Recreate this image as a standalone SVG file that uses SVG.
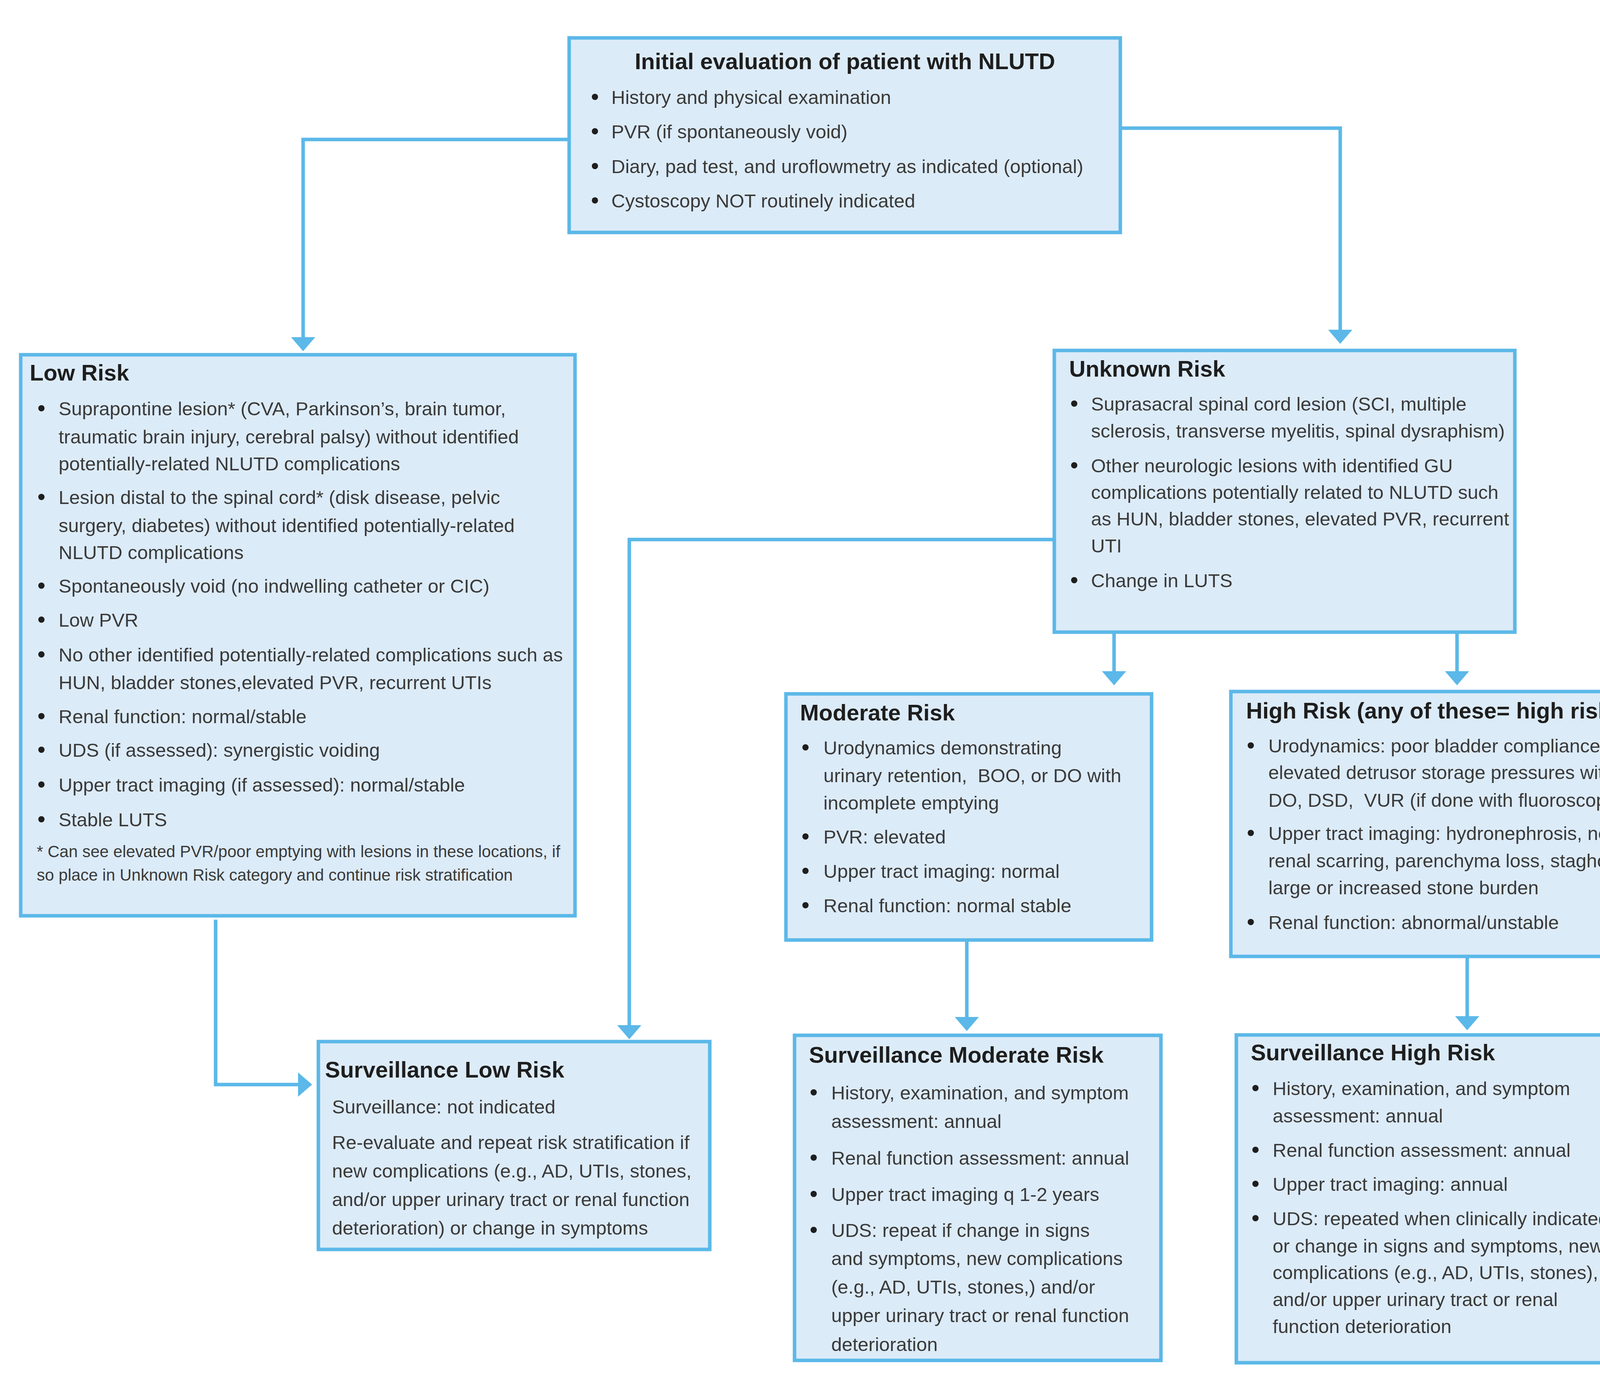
<svg xmlns="http://www.w3.org/2000/svg" width="4281" height="3545" viewBox="0 0 4281 3545">
<style>
.box{fill:#DCEBF8;stroke:#5BB8E8;stroke-width:9}
.ttl{font-family:"Liberation Sans",Arial,sans-serif;font-weight:bold;font-size:58px;fill:#1E1E1E}
.txt{font-family:"Liberation Sans",Arial,sans-serif;font-size:49px;fill:#3A3A3A;white-space:pre}
.fn{font-family:"Liberation Sans",Arial,sans-serif;font-size:42px;fill:#3A3A3A}
.bul{fill:#1E1E1E}
.con{fill:none;stroke:#5BB8E8;stroke-width:9}
</style>
<defs>
<marker id="ah" viewBox="0 0 36 62" refX="30" refY="31" markerWidth="36" markerHeight="62" markerUnits="userSpaceOnUse" orient="auto">
<path d="M0,0 L36,31 L0,62 z" fill="#5BB8E8"/>
</marker>
<circle id="b" r="8" class="bul"/>
</defs>
<rect width="4281" height="3545" fill="#FFFFFF"/>

<g id="connectors">
<path class="con" d="M1453,357 H776 V893" marker-end="url(#ah)"/>
<path class="con" d="M2872,328 H3431 V874" marker-end="url(#ah)"/>
<path class="con" d="M2695,1381 H1611 V2654" marker-end="url(#ah)"/>
<path class="con" d="M2852,1622 V1748" marker-end="url(#ah)"/>
<path class="con" d="M3730,1622 V1748" marker-end="url(#ah)"/>
<path class="con" d="M2475,2410 V2633" marker-end="url(#ah)"/>
<path class="con" d="M3756,2452 V2631" marker-end="url(#ah)"/>
<path class="con" d="M552,2354 V2776 H793" marker-end="url(#ah)"/>
</g>

<g id="initial">
<rect class="box" x="1457" y="97" width="1411" height="498"/>
<text class="ttl" x="2163" y="177" text-anchor="middle">Initial evaluation of patient with NLUTD</text>
<use href="#b" x="1523" y="248"/><text class="txt" x="1565" y="266">History and physical examination</text>
<use href="#b" x="1523" y="336"/><text class="txt" x="1565" y="354">PVR (if spontaneously void)</text>
<use href="#b" x="1523" y="425"/><text class="txt" x="1565" y="443">Diary, pad test, and uroflowmetry as indicated (optional)</text>
<use href="#b" x="1523" y="513"/><text class="txt" x="1565" y="531">Cystoscopy NOT routinely indicated</text>
</g>

<g id="low-risk">
<rect class="box" x="53" y="908" width="1419" height="1436"/>
<text class="ttl" x="76" y="974">Low Risk</text>
<use href="#b" x="106" y="1045"/><text class="txt" x="150" y="1063">Suprapontine lesion* (CVA, Parkinson’s, brain tumor,</text>
<text class="txt" x="150" y="1135">traumatic brain injury, cerebral palsy) without identified</text>
<text class="txt" x="150" y="1204">potentially-related NLUTD complications</text>
<use href="#b" x="106" y="1272"/><text class="txt" x="150" y="1290">Lesion distal to the spinal cord* (disk disease, pelvic</text>
<text class="txt" x="150" y="1362">surgery, diabetes) without identified potentially-related</text>
<text class="txt" x="150" y="1431">NLUTD complications</text>
<use href="#b" x="106" y="1499"/><text class="txt" x="150" y="1517">Spontaneously void (no indwelling catheter or CIC)</text>
<use href="#b" x="106" y="1586"/><text class="txt" x="150" y="1604">Low PVR</text>
<use href="#b" x="106" y="1675"/><text class="txt" x="150" y="1693">No other identified potentially-related complications such as</text>
<text class="txt" x="150" y="1764">HUN, bladder stones,elevated PVR, recurrent UTIs</text>
<use href="#b" x="106" y="1833"/><text class="txt" x="150" y="1851">Renal function: normal/stable</text>
<use href="#b" x="106" y="1919"/><text class="txt" x="150" y="1937">UDS (if assessed): synergistic voiding</text>
<use href="#b" x="106" y="2008"/><text class="txt" x="150" y="2026">Upper tract imaging (if assessed): normal/stable</text>
<use href="#b" x="106" y="2097"/><text class="txt" x="150" y="2115">Stable LUTS</text>
<text class="fn" x="94" y="2194">* Can see elevated PVR/poor emptying with lesions in these locations, if</text>
<text class="fn" x="94" y="2254">so place in Unknown Risk category and continue risk stratification</text>
</g>

<g id="unknown-risk">
<rect class="box" x="2699" y="897" width="1179" height="721"/>
<text class="ttl" x="2737" y="964">Unknown Risk</text>
<use href="#b" x="2750" y="1033"/><text class="txt" x="2793" y="1051">Suprasacral spinal cord lesion (SCI, multiple</text>
<text class="txt" x="2793" y="1120">sclerosis, transverse myelitis, spinal dysraphism)</text>
<use href="#b" x="2750" y="1191"/><text class="txt" x="2793" y="1209">Other neurologic lesions with identified GU</text>
<text class="txt" x="2793" y="1277">complications potentially related to NLUTD such</text>
<text class="txt" x="2793" y="1345">as HUN, bladder stones, elevated PVR, recurrent</text>
<text class="txt" x="2793" y="1414">UTI</text>
<use href="#b" x="2750" y="1485"/><text class="txt" x="2793" y="1503">Change in LUTS</text>
</g>

<g id="moderate-risk">
<rect class="box" x="2012" y="1776" width="936" height="630"/>
<text class="ttl" x="2048" y="1844">Moderate Risk</text>
<use href="#b" x="2062" y="1913"/><text class="txt" x="2108" y="1931">Urodynamics demonstrating</text>
<text class="txt" x="2108" y="2002">urinary retention,  BOO, or DO with</text>
<text class="txt" x="2108" y="2072">incomplete emptying</text>
<use href="#b" x="2062" y="2141"/><text class="txt" x="2108" y="2159">PVR: elevated</text>
<use href="#b" x="2062" y="2229"/><text class="txt" x="2108" y="2247">Upper tract imaging: normal</text>
<use href="#b" x="2062" y="2317"/><text class="txt" x="2108" y="2335">Renal function: normal stable</text>
</g>

<g id="high-risk">
<rect class="box" x="3151" y="1770" width="1041" height="678"/>
<text class="ttl" x="3190" y="1839">High Risk (any of these= high risk)</text>
<use href="#b" x="3202" y="1908"/><text class="txt" x="3247" y="1926">Urodynamics: poor bladder compliance,</text>
<text class="txt" x="3247" y="1994">elevated detrusor storage pressures with</text>
<text class="txt" x="3247" y="2065">DO, DSD,  VUR (if done with fluoroscopy)</text>
<use href="#b" x="3202" y="2132"/><text class="txt" x="3247" y="2150">Upper tract imaging: hydronephrosis, new</text>
<text class="txt" x="3247" y="2220">renal scarring, parenchyma loss, staghorn,</text>
<text class="txt" x="3247" y="2289">large or increased stone burden</text>
<use href="#b" x="3202" y="2360"/><text class="txt" x="3247" y="2378">Renal function: abnormal/unstable</text>
</g>

<g id="surveillance-low">
<rect class="box" x="815" y="2666" width="1002" height="532"/>
<text class="ttl" x="832" y="2758">Surveillance Low Risk</text>
<text class="txt" x="850" y="2850">Surveillance: not indicated</text>
<text class="txt" x="850" y="2941">Re-evaluate and repeat risk stratification if</text>
<text class="txt" x="850" y="3014">new complications (e.g., AD, UTIs, stones,</text>
<text class="txt" x="850" y="3087">and/or upper urinary tract or renal function</text>
<text class="txt" x="850" y="3160">deterioration) or change in symptoms</text>
</g>

<g id="surveillance-moderate">
<rect class="box" x="2034" y="2650" width="938" height="832"/>
<text class="ttl" x="2071" y="2720">Surveillance Moderate Risk</text>
<use href="#b" x="2083" y="2796"/><text class="txt" x="2128" y="2814">History, examination, and symptom</text>
<text class="txt" x="2128" y="2887">assessment: annual</text>
<use href="#b" x="2083" y="2963"/><text class="txt" x="2128" y="2981">Renal function assessment: annual</text>
<use href="#b" x="2083" y="3056"/><text class="txt" x="2128" y="3074">Upper tract imaging q 1-2 years</text>
<use href="#b" x="2083" y="3148"/><text class="txt" x="2128" y="3166">UDS: repeat if change in signs</text>
<text class="txt" x="2128" y="3238">and symptoms, new complications</text>
<text class="txt" x="2128" y="3311">(e.g., AD, UTIs, stones,) and/or</text>
<text class="txt" x="2128" y="3384">upper urinary tract or renal function</text>
<text class="txt" x="2128" y="3458">deterioration</text>
</g>

<g id="surveillance-high">
<rect class="box" x="3165" y="2649" width="1025" height="839"/>
<text class="ttl" x="3202" y="2714">Surveillance High Risk</text>
<use href="#b" x="3214" y="2785"/><text class="txt" x="3258" y="2803">History, examination, and symptom</text>
<text class="txt" x="3258" y="2873">assessment: annual</text>
<use href="#b" x="3214" y="2943"/><text class="txt" x="3258" y="2961">Renal function assessment: annual</text>
<use href="#b" x="3214" y="3030"/><text class="txt" x="3258" y="3048">Upper tract imaging: annual</text>
<use href="#b" x="3214" y="3118"/><text class="txt" x="3258" y="3136">UDS: repeated when clinically indicated</text>
<text class="txt" x="3258" y="3206">or change in signs and symptoms, new</text>
<text class="txt" x="3258" y="3274">complications (e.g., AD, UTIs, stones),</text>
<text class="txt" x="3258" y="3343">and/or upper urinary tract or renal</text>
<text class="txt" x="3258" y="3412">function deterioration</text>
</g>
</svg>
